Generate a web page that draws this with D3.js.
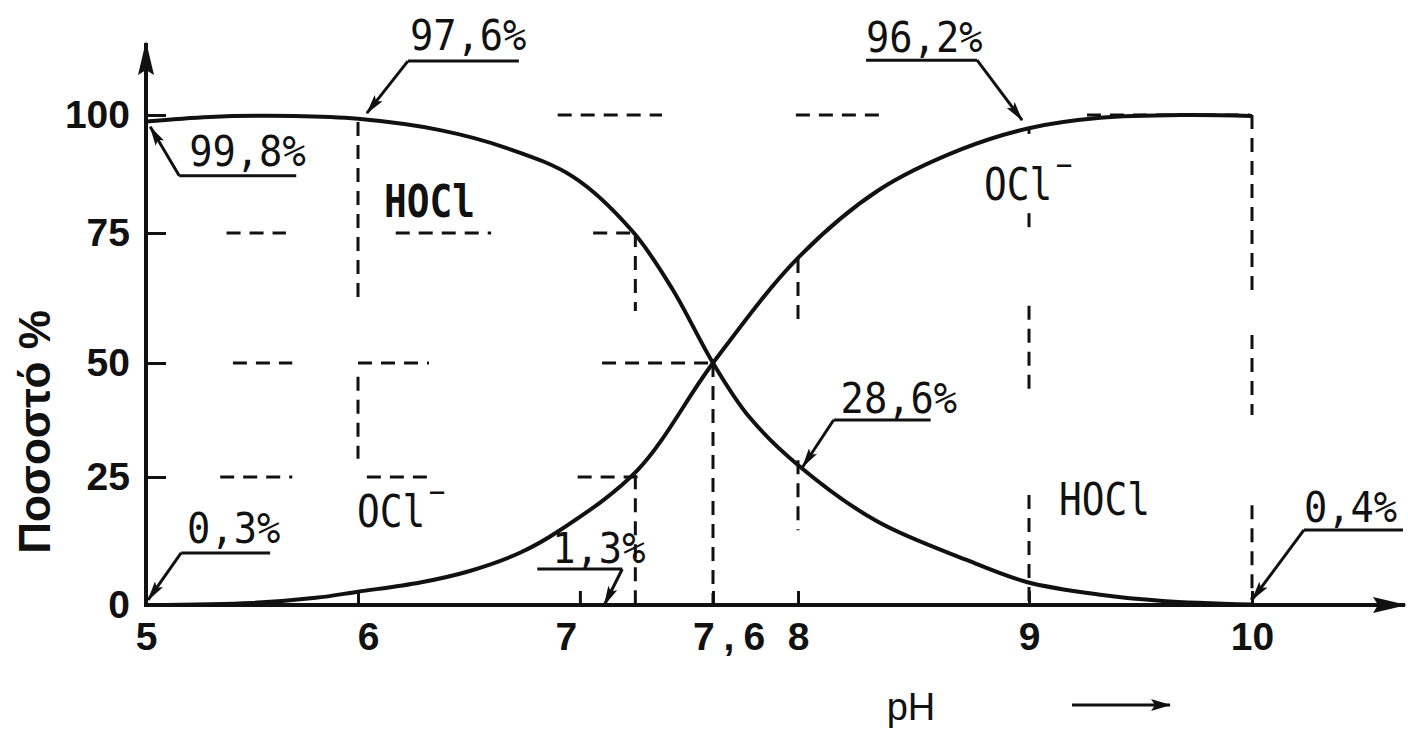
<!DOCTYPE html>
<html>
<head>
<meta charset="utf-8">
<script src="https://cdn.jsdelivr.net/npm/d3@7"></script>
<style>
  body { margin: 0; background: #fff; }
  svg { display: block; background: #fff; }
  .tick line { stroke: #111; stroke-width: 3; }
  .tick text { font-family: "Liberation Sans", Arial, sans-serif; font-weight: bold; font-size: 39px; fill: #111; }
  .axisline { stroke: #111; stroke-width: 4; fill: none; }
  .curve { fill: none; stroke: #111; stroke-width: 4; }
  .guide { stroke: #111; stroke-width: 3; stroke-dasharray: 14 9; fill: none; }
  .note { font-family: "DejaVu Sans Mono", monospace; font-size: 43px; fill: #111; }
  .species { font-family: "DejaVu Sans Mono", monospace; font-size: 44px; fill: #111; }
  .leader { stroke: #111; stroke-width: 3; fill: none; }
  .title { font-family: "Liberation Sans", Arial, sans-serif; fill: #111; }
</style>
</head>
<body>
<svg id="chart" width="1408" height="729"></svg>
<script>
// ---- data ----
var xTicks = [5, 6, 7, 7.6, 8, 9, 10];
var yTicks = [0, 25, 50, 75, 100];

// [pH, %] HOCl (falls) and OCl- (rises)
var hoclCurve = [[5, 98.6], [5.3, 99.6], [5.7, 99.8], [6.0, 99.2], [6.37, 96.8], [6.67, 93.0],
  [6.97, 86.9], [7.24, 75.2], [7.42, 64.0], [7.6, 50], [7.77, 38.2], [8.01, 27.2], [8.34, 16.4],
  [8.73, 8.8], [8.99, 4.5], [9.32, 2.0], [9.6, 0.8], [10, 0.1]];
var oclCurve = [[5, 0], [5.5, 0.4], [5.8, 1.4], [6.0, 2.6], [6.28, 4.4], [6.5, 6.6], [6.73, 10.2],
  [6.91, 14.6], [7.26, 26.5], [7.6, 50], [8.0, 70.2], [8.35, 84.1], [8.7, 92.6], [9.0, 97.2],
  [9.32, 99.4], [9.7, 100], [10, 99.8]];

// dashed read-off lines: [level %, from pH, to pH] and [pH, from %, to %]
var hGuides = [[75, 5.38, 5.66], [75, 6.17, 6.60], [75, 7.06, 7.26],
  [50, 5.41, 5.69], [50, 6.0, 6.32], [50, 7.10, 7.6],
  [25, 5.35, 5.69], [25, 6.04, 6.32], [25, 6.99, 7.26],
  [100, 6.90, 7.37], [100, 7.99, 8.36], [100, 9.26, 9.99]];
var vGuides = [[6, 61, 98.5], [6, 29, 47],
  [7.25, 60, 75], [7.25, 0, 25.4],
  [7.6, 0, 50],
  [8, 58, 70], [8, 14.6, 28.7],
  [9, 96, 97.3], [9, 75.6, 79.2], [9, 44, 61], [9, 0, 21.5],
  [10, 64, 100], [10, 38.6, 55.4], [10, 1, 19.5]];

// percentage call-outs and the point each arrow hits [pH, %]
var noteLabels = ["99,8%", "97,6%", "96,2%", "28,6%", "0,3%", "1,3%", "0,4%"];
var noteTargets = [[5.02, 97.5], [6.04, 100.4], [8.97, 98.9], [8.02, 27.2], [5.01, 1], [7.11, 0], [10, 1]];

var speciesNames = ["HOCl", "OCl", "OCl", "HOCl"];
var speciesCharge = ["", "\u2212", "\u2212", ""];

// ---- layout ----
var width = 1408, height = 729;
// hand drawn axis: the pH ticks are not evenly spaced
var x = d3.scaleLinear().domain([5, 6, 7.6, 8, 9, 10]).range([146, 358, 713, 798, 1029, 1252]);
var y = d3.scaleLinear().domain([0, 25, 50, 75, 100]).range([605, 477, 363, 233, 115]);

// elbow offset from tip, underline length, text offset from elbow (left, baseline)
var noteLayout = [[29, 49, 117, 10, -10], [41, -52, 111, 2, -11], [-45, -60, -111, -111, -8],
  [31, -47, 97, 7, -7], [33, -47, 89, 6, -10], [18, -36, -85, -70, -6], [52, -70, 99, 0, -8]];
var speciesLayout = [[384, 217, true], [984, 200, false], [357, 527, false], [1059, 515, false]];
var xLabelShift = {6: 10, 7: -14, 7.6: 20};

var svg = d3.select("#chart");

var defs = svg.append("defs");
defs.append("marker").attr("id", "axisHead")
    .attr("viewBox", "0 0 34 16").attr("refX", 32).attr("refY", 8)
    .attr("markerWidth", 34).attr("markerHeight", 16)
    .attr("markerUnits", "userSpaceOnUse").attr("orient", "auto")
  .append("path").attr("d", "M0,0 L34,8 L0,16 L5,8 Z").attr("fill", "#111");
defs.append("marker").attr("id", "noteHead")
    .attr("viewBox", "0 0 20 10").attr("refX", 19).attr("refY", 5)
    .attr("markerWidth", 20).attr("markerHeight", 10)
    .attr("markerUnits", "userSpaceOnUse").attr("orient", "auto")
  .append("path").attr("d", "M0,0 L20,5 L0,10 L4,5 Z").attr("fill", "#111");
defs.append("marker").attr("id", "smallHead")
    .attr("viewBox", "0 0 20 12").attr("refX", 19).attr("refY", 6)
    .attr("markerWidth", 20).attr("markerHeight", 12)
    .attr("markerUnits", "userSpaceOnUse").attr("orient", "auto")
  .append("path").attr("d", "M0,0 L20,6 L0,12 L4,6 Z").attr("fill", "#111");

// DASHED GUIDES
svg.append("g").selectAll("line.h")
    .data(hGuides)
    .enter().append("line")
    .attr("class", "guide")
    .attr("x1", d => x(d[1])).attr("x2", d => x(d[2]))
    .attr("y1", d => y(d[0])).attr("y2", d => y(d[0]));

svg.append("g").selectAll("line.v")
    .data(vGuides)
    .enter().append("line")
    .attr("class", "guide")
    .attr("x1", d => x(d[0])).attr("x2", d => x(d[0]))
    .attr("y1", d => y(d[2])).attr("y2", d => y(d[1]));

// AXES
var yAxis = d3.axisLeft(y).tickValues(yTicks).tickSize(-20).tickPadding(16);
svg.append("g")
    .attr("transform", "translate(" + x(5) + ",0)")
    .call(yAxis)
    .call(g => g.select(".domain").remove())
    .call(g => g.selectAll(".tick").filter(d => d === 0).select("line").remove());

var xAxis = d3.axisBottom(x).tickValues(xTicks).tickSize(-14).tickPadding(17)
    .tickFormat(d => String(d).replace(".", ","));
svg.append("g")
    .attr("transform", "translate(0," + y(0) + ")")
    .call(xAxis)
    .call(g => g.select(".domain").remove())
    .call(g => g.selectAll(".tick text")
        .attr("dx", d => xLabelShift[d] || 0)
        .style("letter-spacing", d => d === 7.6 ? "9px" : null));

svg.append("line").attr("class", "axisline")
    .attr("x1", x(5)).attr("y1", y(0) + 2)
    .attr("x2", x(5)).attr("y2", 43)
    .attr("marker-end", "url(#axisHead)");
svg.append("line").attr("class", "axisline")
    .attr("x1", x(5) - 2).attr("y1", y(0))
    .attr("x2", 1405).attr("y2", y(0))
    .attr("marker-end", "url(#axisHead)");

// CURVES
var line = d3.line()
    .x(d => x(d[0]))
    .y(d => y(d[1]))
    .curve(d3.curveCatmullRom.alpha(0.5));

svg.append("path").datum(hoclCurve).attr("class", "curve").attr("d", line);
svg.append("path").datum(oclCurve).attr("class", "curve").attr("d", line);

// CALL-OUTS
var notes = svg.append("g");
noteLabels.forEach(function(label, i) {
    var tx = x(noteTargets[i][0]), ty = y(noteTargets[i][1]);
    var L = noteLayout[i];
    var ex = tx + L[0], ey = ty + L[1];
    notes.append("line").attr("class", "leader")
        .attr("x1", ex).attr("y1", ey).attr("x2", ex + L[2]).attr("y2", ey);
    notes.append("line").attr("class", "leader")
        .attr("x1", ex).attr("y1", ey).attr("x2", tx).attr("y2", ty)
        .attr("marker-end", "url(#noteHead)");
    notes.append("text").attr("class", "note")
        .attr("transform", "translate(" + (ex + L[3]) + "," + (ey + L[4]) + ") scale(0.9,1)")
        .text(label);
});

// SPECIES LABELS
speciesNames.forEach(function(name, i) {
    var s = speciesLayout[i];
    var t = svg.append("text").attr("class", "species")
        .attr("transform", "translate(" + s[0] + "," + s[1] + ") scale(0.86,1)")
        .style("font-weight", s[2] ? "bold" : "normal")
        .text(name);
    if (speciesCharge[i]) {
        t.append("tspan").attr("dx", 4).attr("dy", -24)
            .style("font-size", "32px").text(speciesCharge[i]);
    }
});

// AXIS TITLES
svg.append("text").attr("class", "title")
    .attr("transform", "translate(50,432) rotate(-90)")
    .attr("text-anchor", "middle")
    .style("font-size", "44px").style("font-weight", "bold")
    .text("Ποσοστό %");

svg.append("text").attr("class", "title")
    .attr("x", 911).attr("y", 720)
    .attr("text-anchor", "middle")
    .style("font-size", "38px")
    .text("pH");
svg.append("line").attr("class", "axisline")
    .attr("x1", 1072).attr("y1", 705).attr("x2", 1170).attr("y2", 705)
    .style("stroke-width", 3)
    .attr("marker-end", "url(#smallHead)");
</script>
</body>
</html>
